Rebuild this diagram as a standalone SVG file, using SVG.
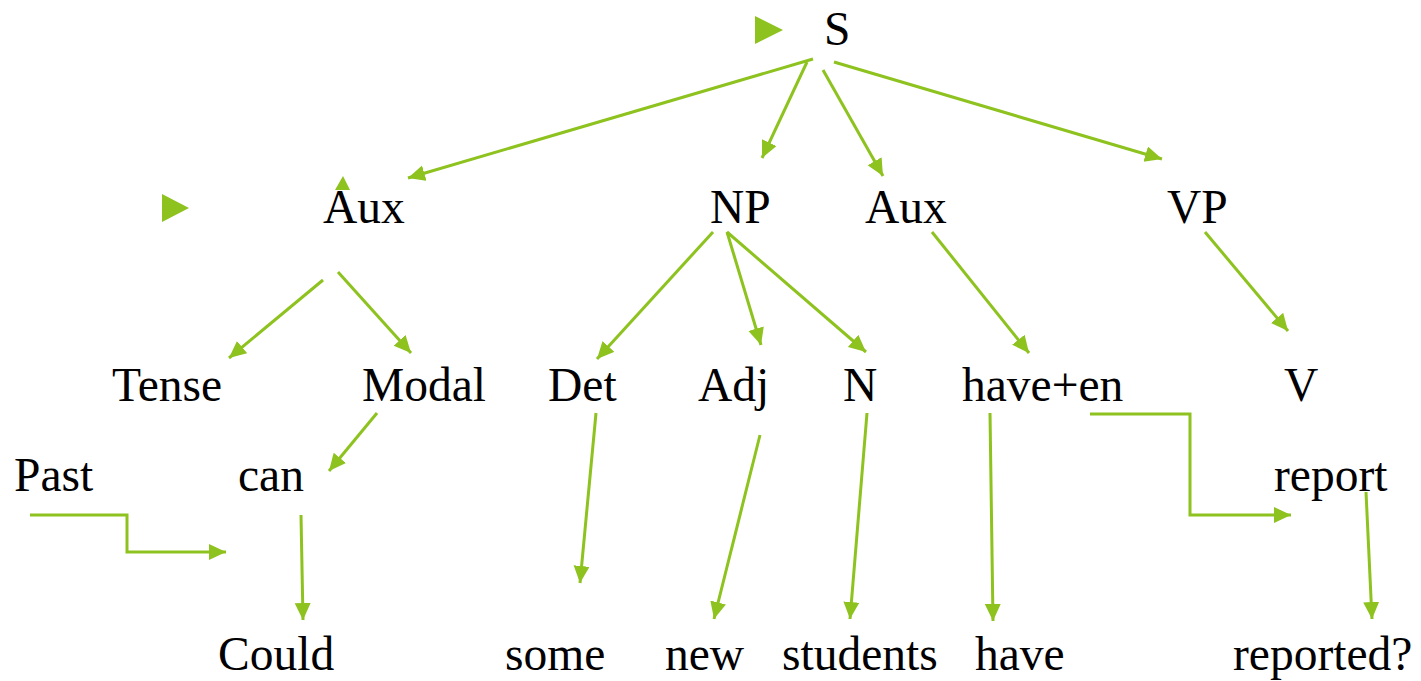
<svg xmlns="http://www.w3.org/2000/svg" width="1421" height="681" viewBox="0 0 1421 681">
<style>
text{font-family:"Liberation Serif","Times New Roman",serif;font-size:47.5px;fill:#000}
.c{fill:none;stroke:#8DC21F;stroke-width:3}
.b{fill:#8DC21F}
</style>
<defs>
<marker id="ah" markerUnits="userSpaceOnUse" markerWidth="20" markerHeight="18" refX="17" refY="8" orient="auto">
<path d="M0,0 L17,8 L0,16 z" fill="#8DC21F"/>
</marker>
</defs>
<rect width="1421" height="681" fill="#fff"/>
<g id="bullets">
<polygon class="b" points="755,16 755,44 783,30"/>
<polygon class="b" points="162,194 162,222 189,208"/>
</g>
<g id="n-S"><text x="824" y="45">S</text></g>
<g id="n-Aux1"><text x="323" y="223">Aux</text></g>
<g id="n-NP"><text x="710" y="223">NP</text></g>
<g id="n-Aux2"><text x="865" y="223">Aux</text></g>
<g id="n-VP"><text x="1167" y="223">VP</text></g>
<g id="n-Tense"><text x="112" y="401">Tense</text></g>
<g id="n-Modal"><text x="362" y="401">Modal</text></g>
<g id="n-Det"><text x="548" y="401">Det</text></g>
<g id="n-Adj"><text x="698" y="401">Adj</text></g>
<g id="n-N"><text x="843" y="401">N</text></g>
<g id="n-haveen"><text x="962" y="401">have+en</text></g>
<g id="n-V"><text x="1284" y="401">V</text></g>
<g id="n-Past"><text x="14" y="491">Past</text></g>
<g id="n-can"><text x="238" y="491">can</text></g>
<g id="n-report"><text x="1274" y="491">report</text></g>
<g id="n-Could"><text x="218" y="670">Could</text></g>
<g id="n-some"><text x="505" y="670">some</text></g>
<g id="n-new"><text x="665" y="670">new</text></g>
<g id="n-students"><text x="782" y="670">students</text></g>
<g id="n-have"><text x="975" y="670">have</text></g>
<g id="n-reported"><text x="1233" y="670">reported?</text></g>
<g id="connectors">
<line class="c" x1="813" y1="59" x2="408" y2="178" marker-end="url(#ah)"/>
<line class="c" x1="807" y1="62" x2="762" y2="158" marker-end="url(#ah)"/>
<line class="c" x1="823" y1="70" x2="883" y2="176" marker-end="url(#ah)"/>
<line class="c" x1="834" y1="62" x2="1162" y2="159" marker-end="url(#ah)"/>
<polygon class="b" points="335,190 350,190 343,176"/>
<line class="c" x1="323" y1="280" x2="229" y2="358" marker-end="url(#ah)"/>
<line class="c" x1="338" y1="272" x2="411" y2="353" marker-end="url(#ah)"/>
<line class="c" x1="377" y1="413" x2="329" y2="471" marker-end="url(#ah)"/>
<polyline class="c" points="30,515 127,515 127,552 226,552" marker-end="url(#ah)"/>
<line class="c" x1="301" y1="515" x2="303" y2="620" marker-end="url(#ah)"/>
<line class="c" x1="713" y1="232" x2="597" y2="359" marker-end="url(#ah)"/>
<line class="c" x1="727" y1="232" x2="761" y2="345" marker-end="url(#ah)"/>
<line class="c" x1="727" y1="232" x2="866" y2="352" marker-end="url(#ah)"/>
<line class="c" x1="596" y1="413" x2="580" y2="583" marker-end="url(#ah)"/>
<line class="c" x1="760" y1="435" x2="714" y2="619" marker-end="url(#ah)"/>
<line class="c" x1="867" y1="413" x2="850" y2="619" marker-end="url(#ah)"/>
<line class="c" x1="932" y1="232" x2="1029" y2="353" marker-end="url(#ah)"/>
<line class="c" x1="990" y1="413" x2="993" y2="621" marker-end="url(#ah)"/>
<polyline class="c" points="1090,414 1190,414 1190,515 1291,515" marker-end="url(#ah)"/>
<line class="c" x1="1205" y1="232" x2="1288" y2="331" marker-end="url(#ah)"/>
<line class="c" x1="1366" y1="492" x2="1372" y2="619" marker-end="url(#ah)"/>
</g>
</svg>
